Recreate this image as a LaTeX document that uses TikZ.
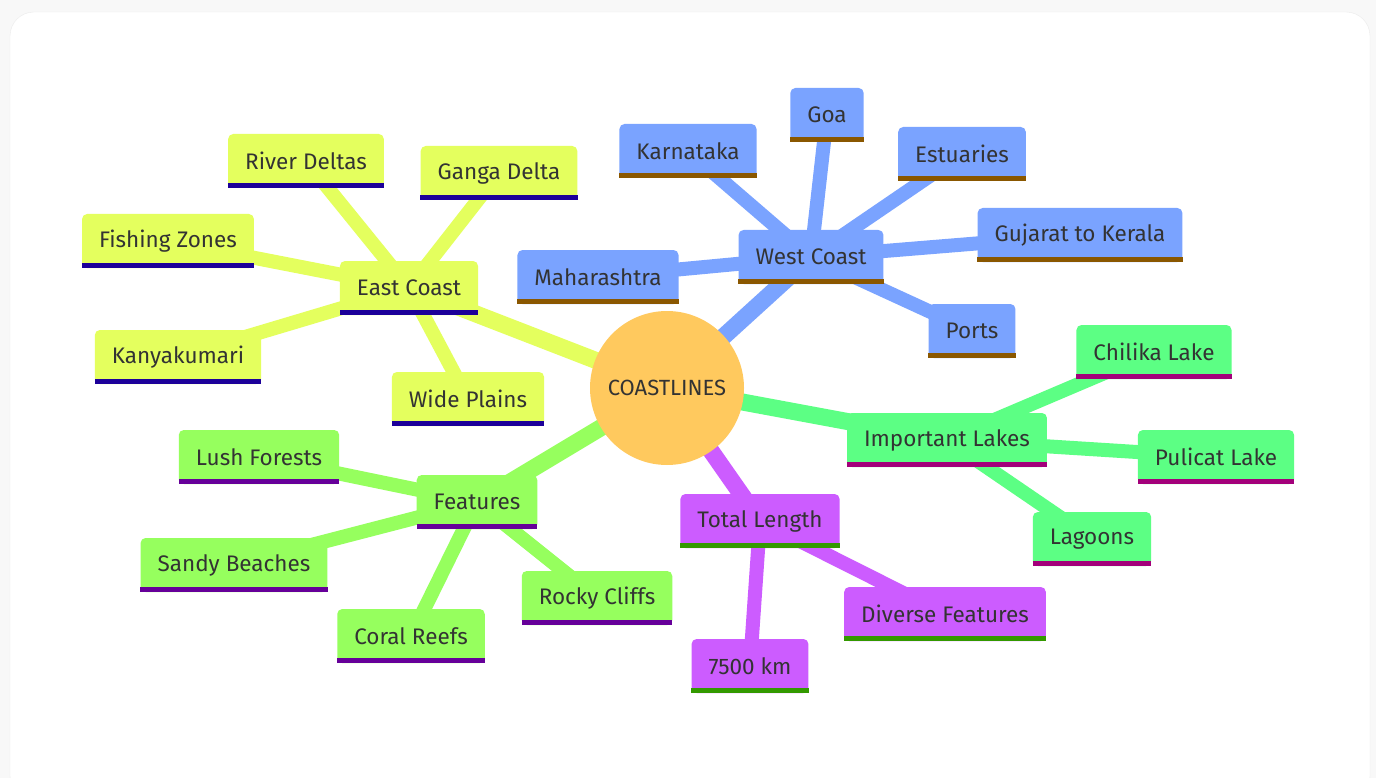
\documentclass[tikz,border=0pt]{standalone}
\usepackage{fontspec}
\setmainfont{Fira Sans}
\usetikzlibrary{positioning}
\pgfdeclarelayer{backdrop}
\pgfdeclarelayer{background}
\pgfsetlayers{backdrop,background,main}

\definecolor{pagegray}{HTML}{F8F8F8}
\definecolor{cardline}{HTML}{EBEBEB}
\definecolor{txt}{HTML}{333333}
\definecolor{rootfill}{HTML}{FFC95E}
\definecolor{eastfill}{HTML}{E4FF5E}
\definecolor{eastline}{HTML}{1C0099}
\definecolor{westfill}{HTML}{7AA3FF}
\definecolor{westline}{HTML}{8A5700}
\definecolor{lakefill}{HTML}{5CFF84}
\definecolor{lakeline}{HTML}{A3007A}
\definecolor{lenfill}{HTML}{CC5CFF}
\definecolor{lenline}{HTML}{339900}
\definecolor{featfill}{HTML}{96FF5E}
\definecolor{featline}{HTML}{660099}

\tikzstyle{box} = [rectangle, rounded corners=5pt, minimum height=54pt, inner xsep=17pt, text=txt, font=\fontsize{22.5}{26}\selectfont]
\tikzstyle{ebox} = [box, fill=eastfill]
\tikzstyle{wbox} = [box, fill=westfill]
\tikzstyle{lbox} = [box, fill=lakefill]
\tikzstyle{tbox} = [box, fill=lenfill]
\tikzstyle{fbox} = [box, fill=featfill]
\tikzstyle{hub} = [circle, fill=rootfill, minimum size=154pt, text=txt, font=\fontsize{22}{26}\selectfont]
\tikzstyle{trunk} = [line width=17pt]
\tikzstyle{twig} = [line width=14pt]

\begin{document}
\begin{tikzpicture}[x=1pt, y=-1pt]
  \useasboundingbox (0,0) rectangle (1376,778);
  \begin{pgfonlayer}{backdrop}
  \fill[pagegray] (0,0) rectangle (1376,778);
  \filldraw[fill=white, draw=cardline, rounded corners=24pt] (10,12) rectangle (1370,800);
  \end{pgfonlayer}

  \node[hub] (root) at (667,388) {COASTLINES};

  % east coast
  \node[ebox] (east) at (409,288) {East Coast};
  \node[ebox] (rdel) at (306,161) {River Deltas};
  \node[ebox] (gdel) at (499,173) {Ganga Delta};
  \node[ebox] (fish) at (168,241) {Fishing Zones};
  \node[ebox] (kany) at (178,357) {Kanyakumari};
  \node[ebox] (wide) at (468,399) {Wide Plains};

  % west coast
  \node[wbox] (west) at (811,257) {West Coast};
  \node[wbox] (karn) at (688,151) {Karnataka};
  \node[wbox] (goa)  at (827,115) {Goa};
  \node[wbox] (estu) at (962,154) {Estuaries};
  \node[wbox] (guj)  at (1080,235) {Gujarat to Kerala};
  \node[wbox] (maha) at (598,277) {Maharashtra};
  \node[wbox] (port) at (972,331) {Ports};

  % lakes
  \node[lbox] (lakes) at (947,440) {Important Lakes};
  \node[lbox] (chil)  at (1154,352) {Chilika Lake};
  \node[lbox] (puli)  at (1216,457) {Pulicat Lake};
  \node[lbox] (lago)  at (1092,539) {Lagoons};

  % length
  \node[tbox] (total) at (760,521) {Total Length};
  \node[tbox] (dive)  at (945,614) {Diverse Features};
  \node[tbox] (km)    at (750,666) {7500 km};

  % features
  \node[fbox] (feat)  at (477,502) {Features};
  \node[fbox] (lush)  at (259,457) {Lush Forests};
  \node[fbox] (sand)  at (234,565) {Sandy Beaches};
  \node[fbox] (coral) at (411,636) {Coral Reefs};
  \node[fbox] (rock)  at (597,598) {Rocky Cliffs};

  % underlines
  \foreach \n in {east,rdel,gdel,fish,kany,wide}
    \fill[eastline] (\n.south west) rectangle ([yshift=5pt]\n.south east);
  \foreach \n in {west,karn,goa,estu,guj,maha,port}
    \fill[westline] (\n.south west) rectangle ([yshift=5pt]\n.south east);
  \foreach \n in {lakes,chil,puli,lago}
    \fill[lakeline] (\n.south west) rectangle ([yshift=5pt]\n.south east);
  \foreach \n in {total,dive,km}
    \fill[lenline] (\n.south west) rectangle ([yshift=5pt]\n.south east);
  \foreach \n in {feat,lush,sand,coral,rock}
    \fill[featline] (\n.south west) rectangle ([yshift=5pt]\n.south east);

  \begin{pgfonlayer}{background}
  \draw[trunk, eastfill] (root.center) -- (east.center);
  \draw[trunk, westfill] (root.center) -- (west.center);
  \draw[trunk, lakefill] (root.center) -- (lakes.center);
  \draw[trunk, lenfill] (root.center) -- (total.center);
  \draw[trunk, featfill] (root.center) -- (feat.center);

  \foreach \n in {rdel,gdel,fish,kany,wide}
    \draw[twig, eastfill] (east.center) -- (\n.center);
  \foreach \n in {karn,goa,estu,guj,maha,port}
    \draw[twig, westfill] (west.center) -- (\n.center);
  \foreach \n in {chil,puli,lago}
    \draw[twig, lakefill] (lakes.center) -- (\n.center);
  \foreach \n in {dive,km}
    \draw[twig, lenfill] (total.center) -- (\n.center);
  \foreach \n in {lush,sand,coral,rock}
    \draw[twig, featfill] (feat.center) -- (\n.center);
  \end{pgfonlayer}
\end{tikzpicture}
\end{document}
